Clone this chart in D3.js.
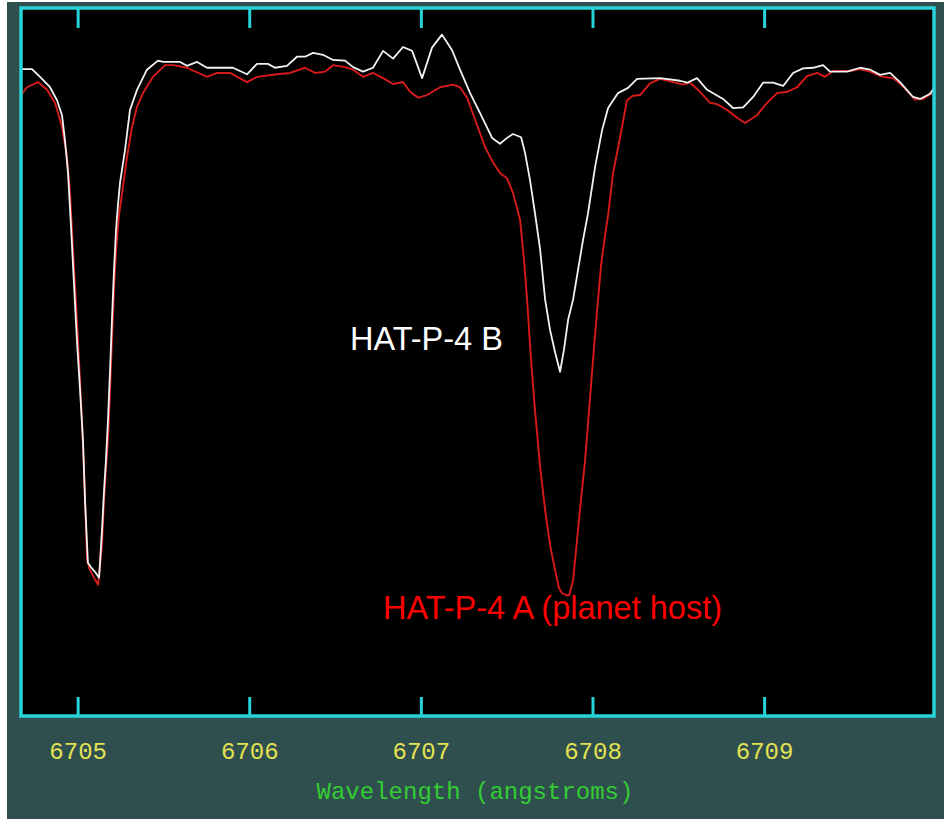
<!DOCTYPE html>
<html>
<head>
<meta charset="utf-8">
<script src="https://cdn.jsdelivr.net/npm/d3@7"></script>
<style>
  html, body { margin: 0; padding: 0; background: #ffffff; }
  svg { display: block; }
</style>
</head>
<body>
<svg id="chart" width="944" height="819"></svg>
<script>
// ---- Data ----
const tickValues = [6705, 6706, 6707, 6708, 6709];
const xTitle = "Wavelength (angstroms)";
const labelB = "HAT-P-4 B";
const labelA = "HAT-P-4 A (planet host)";

// HAT-P-4 B (white)
const wlB = [6704.670,6704.734,6704.781,6704.839,6704.880,6704.909,6704.926,6704.944,6704.961,6704.979,
  6704.996,6705.014,6705.031,6705.043,6705.055,6705.060,6705.078,6705.101,6705.125,6705.142,
  6705.154,6705.165,6705.177,6705.189,6705.200,6705.212,6705.224,6705.235,6705.247,6705.276,
  6705.305,6705.346,6705.404,6705.468,6705.498,6705.597,6705.637,6705.696,6705.754,6705.905,
  6705.987,6706.045,6706.109,6706.150,6706.220,6706.278,6706.325,6706.372,6706.430,6706.488,
  6706.558,6706.605,6706.663,6706.721,6706.780,6706.838,6706.896,6706.949,6707.007,6707.065,
  6707.123,6707.182,6707.228,6707.287,6707.345,6707.415,6707.461,6707.502,6707.537,6707.584,
  6707.607,6707.636,6707.665,6707.695,6707.724,6707.753,6707.782,6707.811,6707.834,6707.858,
  6707.887,6707.916,6707.945,6707.974,6708.015,6708.056,6708.091,6708.149,6708.207,6708.260,
  6708.394,6708.510,6708.551,6708.609,6708.668,6708.761,6708.819,6708.878,6708.936,6708.994,
  6709.052,6709.111,6709.169,6709.227,6709.285,6709.344,6709.384,6709.484,6709.559,6709.618,
  6709.676,6709.734,6709.792,6709.868,6709.909,6709.967,6709.985];
const fluxB = [0.996,0.996,0.984,0.968,0.948,0.925,0.887,0.836,0.756,0.664,
  0.579,0.502,0.425,0.333,0.263,0.236,0.229,0.222,0.213,0.286,
  0.348,0.394,0.456,0.533,0.610,0.687,0.749,0.787,0.821,0.871,
  0.933,0.964,0.995,1.009,1.007,1.007,1.001,1.007,0.998,0.998,
  0.988,1.004,1.004,0.998,1.001,1.015,1.015,1.021,1.018,1.010,
  1.009,0.999,0.992,0.998,1.024,1.012,1.030,1.024,0.982,1.029,
  1.049,1.025,0.995,0.959,0.928,0.890,0.881,0.890,0.896,0.891,
  0.867,0.825,0.774,0.718,0.641,0.594,0.560,0.530,0.564,0.610,
  0.641,0.687,0.733,0.774,0.845,0.902,0.936,0.959,0.967,0.981,
  0.982,0.978,0.975,0.982,0.964,0.950,0.936,0.937,0.953,0.975,
  0.975,0.970,0.990,0.997,0.998,1.002,0.992,0.992,0.998,0.995,
  0.987,0.990,0.976,0.953,0.950,0.958,0.965];

// HAT-P-4 A (red)
const wlA = [6704.670,6704.705,6704.769,6704.822,6704.868,6704.909,6704.938,6704.956,6704.973,6704.991,
  6705.008,6705.025,6705.037,6705.049,6705.055,6705.072,6705.095,6705.119,6705.142,6705.154,
  6705.165,6705.177,6705.189,6705.200,6705.212,6705.224,6705.241,6705.259,6705.288,6705.317,
  6705.346,6705.381,6705.439,6705.509,6705.556,6705.637,6705.754,6705.812,6705.888,6705.987,
  6706.045,6706.162,6706.238,6706.325,6706.383,6706.442,6706.488,6706.558,6706.605,6706.663,
  6706.721,6706.780,6706.838,6706.896,6706.937,6706.984,6707.036,6707.112,6707.188,6707.228,
  6707.269,6707.316,6707.374,6707.421,6707.461,6707.502,6707.537,6707.578,6707.601,6707.619,
  6707.642,6707.665,6707.695,6707.724,6707.753,6707.782,6707.805,6707.823,6707.846,6707.864,
  6707.887,6707.910,6707.933,6707.957,6707.980,6708.003,6708.027,6708.050,6708.073,6708.091,
  6708.120,6708.161,6708.201,6708.236,6708.277,6708.335,6708.394,6708.470,6708.528,6708.569,
  6708.627,6708.685,6708.726,6708.784,6708.843,6708.889,6708.959,6709.017,6709.076,6709.134,
  6709.192,6709.250,6709.309,6709.355,6709.402,6709.501,6709.559,6709.618,6709.693,6709.752,
  6709.810,6709.880,6709.926,6709.979];
const fluxA = [0.956,0.968,0.976,0.964,0.944,0.907,0.861,0.805,0.718,0.633,
  0.548,0.456,0.379,0.287,0.240,0.225,0.213,0.202,0.263,0.333,
  0.379,0.425,0.502,0.579,0.656,0.718,0.771,0.805,0.861,0.907,
  0.938,0.959,0.984,1.002,1.002,0.998,0.984,0.990,0.990,0.976,
  0.984,0.988,0.990,0.998,0.990,0.992,1.002,0.999,0.995,0.984,
  0.990,0.982,0.973,0.976,0.961,0.952,0.956,0.968,0.972,0.968,
  0.952,0.918,0.876,0.852,0.836,0.828,0.805,0.764,0.702,0.641,
  0.548,0.471,0.383,0.317,0.263,0.225,0.197,0.189,0.186,0.186,
  0.209,0.271,0.333,0.394,0.471,0.548,0.625,0.694,0.740,0.771,
  0.836,0.891,0.948,0.955,0.956,0.974,0.981,0.976,0.972,0.975,
  0.961,0.944,0.942,0.933,0.921,0.913,0.925,0.944,0.959,0.961,
  0.968,0.985,0.990,0.984,0.993,0.993,0.996,0.992,0.984,0.982,
  0.969,0.949,0.950,0.959];

// ---- Drawing ----
const svg = d3.select("#chart");
const W = 944, H = 819;
const plot = { left: 21, right: 934, top: 8, bottom: 716 };

// outer backgrounds
svg.append("rect").attr("x", 0).attr("y", 0).attr("width", W).attr("height", H).attr("fill", "#ffffff");
svg.append("rect").attr("x", 7).attr("y", 2).attr("width", W - 7).attr("height", H - 2).attr("fill", "#2f4f4f");

// plot area
svg.append("rect")
  .attr("x", plot.left).attr("y", plot.top)
  .attr("width", plot.right - plot.left).attr("height", plot.bottom - plot.top)
  .attr("fill", "#000000");

const x = d3.scaleLinear().domain([6704.67, 6709.99]).range([plot.left, plot.right]);
const y = d3.scaleLinear().domain([0, 1.09]).range([plot.bottom, plot.top]);

svg.append("clipPath").attr("id", "clip")
  .append("rect").attr("x", plot.left).attr("y", plot.top)
  .attr("width", plot.right - plot.left).attr("height", plot.bottom - plot.top);

const line = d3.line().x(d => x(d[0])).y(d => y(d[1]));
const dataA = wlA.map((w, i) => [w, fluxA[i]]);
const dataB = wlB.map((w, i) => [w, fluxB[i]]);

const g = svg.append("g").attr("clip-path", "url(#clip)");
g.append("path").datum(dataA).attr("d", line)
  .attr("fill", "none").attr("stroke", "#d81a1a").attr("stroke-width", 1.9).attr("stroke-linejoin", "round");
g.append("path").datum(dataB).attr("d", line)
  .attr("fill", "none").attr("stroke", "#f2f2f2").attr("stroke-width", 1.8).attr("stroke-linejoin", "round");

// axes
const cyan = "#27d3d8";
const bottomAxis = svg.append("g").attr("transform", `translate(0,${plot.bottom})`)
  .call(d3.axisBottom(x).tickValues(tickValues).tickSizeInner(-19).tickSizeOuter(0).tickPadding(26).tickFormat(d3.format("d")));
bottomAxis.select(".domain").remove();
bottomAxis.selectAll(".tick line").attr("stroke", cyan).attr("stroke-width", 3);
bottomAxis.selectAll(".tick text")
  .attr("fill", "#e2e252")
  .style("font-family", "'Liberation Mono', 'DejaVu Sans Mono', monospace")
  .style("font-size", "24px");

const topAxis = svg.append("g").attr("transform", `translate(0,${plot.top})`)
  .call(d3.axisTop(x).tickValues(tickValues).tickSizeInner(-20).tickSizeOuter(0).tickFormat(""));
topAxis.select(".domain").remove();
topAxis.selectAll(".tick line").attr("stroke", cyan).attr("stroke-width", 3);

// border
svg.append("rect")
  .attr("x", plot.left).attr("y", plot.top)
  .attr("width", plot.right - plot.left).attr("height", plot.bottom - plot.top)
  .attr("fill", "none").attr("stroke", cyan).attr("stroke-width", 3.5);

// axis title
svg.append("text")
  .attr("x", 475).attr("y", 799)
  .attr("text-anchor", "middle")
  .attr("fill", "#33cc33")
  .style("font-family", "'Liberation Mono', 'DejaVu Sans Mono', monospace")
  .style("font-size", "24px")
  .text(xTitle);

// series labels
svg.append("text")
  .attr("x", 350).attr("y", 350)
  .attr("fill", "#ffffff")
  .style("font-family", "'Liberation Sans', Arial, sans-serif")
  .style("font-size", "32.5px")
  .text(labelB);
svg.append("text")
  .attr("x", 383).attr("y", 619)
  .attr("fill", "#ff0000")
  .style("font-family", "'Liberation Sans', Arial, sans-serif")
  .style("font-size", "32.5px")
  .text(labelA);
</script>
</body>
</html>
